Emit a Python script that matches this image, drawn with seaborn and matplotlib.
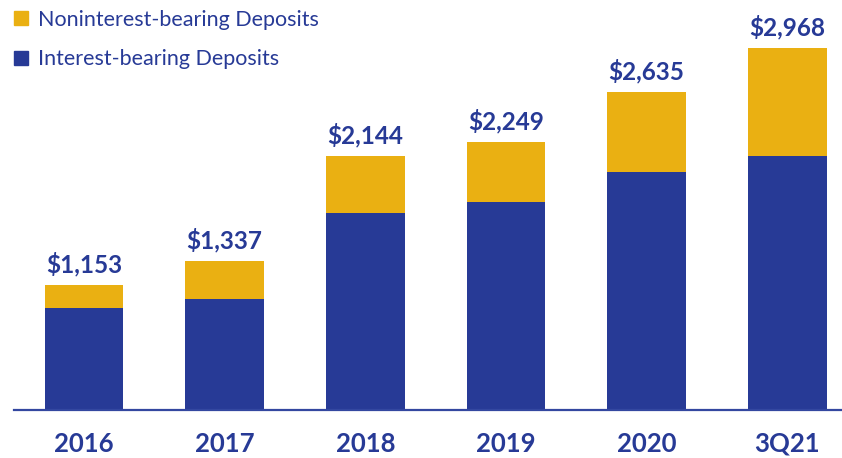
import numpy as np
import pandas as pd
import matplotlib
matplotlib.use("Agg")
import matplotlib.pyplot as plt
from matplotlib.lines import Line2D
import seaborn as sns

# Deposits ($ millions)
periods = ["2016", "2017", "2018", "2019", "2020", "3Q21"]
interest_bearing = [979, 1050, 1708, 1790, 2020, 2144]
noninterest_bearing = [174, 287, 436, 459, 615, 824]
totals = [1153, 1337, 2144, 2249, 2635, 2968]

NAVY = "#273A96"
GOLD = "#EAB012"

sns.set_style("white")
plt.rcParams["font.family"] = ["Lato", "DejaVu Sans"]

df = pd.DataFrame({
    "period": periods,
    "interest": interest_bearing,
    "total": np.array(interest_bearing) + np.array(noninterest_bearing),
})

fig = plt.figure(figsize=(8.42, 4.58), dpi=100)
ax = fig.add_axes([14 / 842, 48.5 / 458, 828 / 842, 409.5 / 458])

# stacked: full height in gold, interest-bearing on top of it in navy
sns.barplot(data=df, x="period", y="total", color=GOLD, width=0.56,
            saturation=1, linewidth=0, ax=ax)
sns.barplot(data=df, x="period", y="interest", color=NAVY, width=0.56,
            saturation=1, linewidth=0, ax=ax)

for i, t in enumerate(totals):
    ax.annotate(f"${t:,}", (i, df["total"][i]), xytext=(0, 9),
                textcoords="offset points", ha="center", va="baseline",
                fontsize=17.5, fontweight="bold", color=NAVY)

ax.set_ylim(203, 3335)
ax.set_xlim(-0.4977, 5.389)
ax.set_xlabel("")
ax.set_ylabel("")
ax.set_yticks([])
for s in ["top", "left", "right"]:
    ax.spines[s].set_visible(False)
ax.spines["bottom"].set_color("#3347A0")
ax.spines["bottom"].set_linewidth(1.6)
ax.tick_params(axis="x", length=0, pad=16, labelsize=18.5, labelcolor=NAVY)
for lbl in ax.get_xticklabels():
    lbl.set_fontweight("bold")

handles = [
    Line2D([], [], marker="s", linestyle="", markersize=10, color=GOLD),
    Line2D([], [], marker="s", linestyle="", markersize=10, color=NAVY),
]
leg = fig.legend(handles, ["Noninterest-bearing Deposits", "Interest-bearing Deposits"],
                 loc="upper left", bbox_to_anchor=(10 / 842, 1 - 10 / 458),
                 frameon=False, fontsize=15.5, handlelength=1.0,
                 handletextpad=0.3, labelspacing=0.9, borderpad=0,
                 borderaxespad=0)
for txt in leg.get_texts():
    txt.set_color(NAVY)

fig.savefig("out.png", dpi=100)
